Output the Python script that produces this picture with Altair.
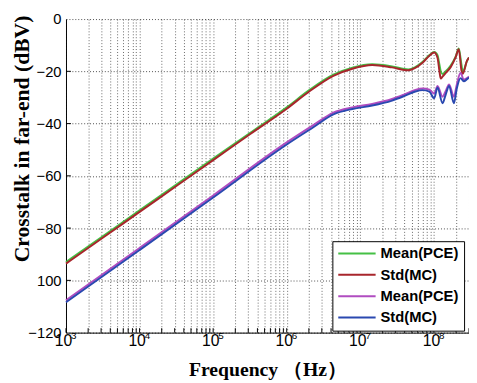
import altair as alt
import pandas as pd

# ---------------- data ----------------
freq_top = [1e3, 3.16e3, 1e4, 3.16e4, 1e5, 3.16e5, 1e6, 2e6, 4.3e6, 7.8e6,
            1.45e7, 2.7e7, 4.5e7, 5.5e7, 7.06e7, 8.69e7, 1.01e8, 1.12e8, 1.19e8,
            1.24e8, 1.31e8, 1.45e8, 1.69e8, 1.97e8, 2.18e8, 2.37e8, 2.47e8,
            2.82e8, 3.0e8]
mean_pce_top = [-93.0, -83.1, -73.2, -63.3, -53.4, -43.6, -33.8, -27.3, -21.3, -18.6,
                -17.3, -18.1, -19.3, -18.5, -16.3, -13.8, -12.6, -13.8, -17.5,
                -20.0, -21.0, -20.0, -17.8, -14.5, -11.3, -17.5, -20.2,
                -16.0, -14.7]
std_mc_top = [-93.6, -83.7, -73.8, -63.9, -54.0, -44.1, -34.3, -27.8, -21.7, -19.0,
              -17.6, -18.5, -19.6, -18.8, -16.6, -14.0, -12.8, -14.8, -20.0,
              -22.8, -22.0, -20.6, -18.4, -14.7, -11.5, -19.7, -20.9,
              -15.9, -14.7]

freq_bot = [1e3, 1e4, 1e5, 1e6, 2.3e6, 4.3e6, 7.8e6, 1.45e7, 2.7e7, 4e7, 5.6e7,
            7.06e7, 8.69e7, 1.01e8, 1.12e8, 1.31e8, 1.45e8, 1.61e8, 1.87e8,
            2.05e8, 2.3e8, 2.55e8, 2.82e8, 3.0e8]
mean_pce_bot = [-107.6, -87.6, -67.5, -47.2, -40.6, -35.8, -33.8, -32.5, -30.6, -28.8, -27.1,
                -26.6, -27.0, -28.5, -25.6, -29.7, -27.5, -25.0, -29.7,
                -25.0, -20.6, -23.2, -22.6, -22.0]
std_mc_bot = [-108.4, -88.4, -68.3, -48.0, -41.4, -36.5, -34.4, -33.1, -31.2, -29.4, -27.7,
              -27.2, -27.8, -30.3, -26.2, -32.2, -28.8, -25.6, -32.2,
              -26.5, -22.6, -23.8, -23.0, -22.4]

series_names = ["Mean(PCE)", "Std(MC)", "Mean(PCE) ", "Std(MC) "]
series_colors = ["#45c045", "#a8262c", "#b04cc0", "#2a48b0"]

y_ticks = [-120, -100, -80, -60, -40, -20, 0]
x_ticks = [k * 10 ** d for d in range(3, 9) for k in range(1, 10) if k * 10 ** d <= 300000000]
x_decades = [1000, 10000, 100000, 1000000, 10000000, 100000000]
x_exponents = ["3", "4", "5", "6", "7", "8"]

x_title = "Frequency （Hz）"
y_title = "Crosstalk in far-end (dBV)"

# ---------------- build tables ----------------
rows = []
for f, v in zip(freq_top, mean_pce_top):
    rows.append({"freq": f, "db": v, "series": series_names[0]})
for f, v in zip(freq_top, std_mc_top):
    rows.append({"freq": f, "db": v, "series": series_names[1]})
for f, v in zip(freq_bot, mean_pce_bot):
    rows.append({"freq": f, "db": v, "series": series_names[2]})
for f, v in zip(freq_bot, std_mc_bot):
    rows.append({"freq": f, "db": v, "series": series_names[3]})
df = pd.DataFrame(rows)

xt_df = pd.DataFrame({"freq": x_ticks, "db": -120, "db2": -118.3})
yt_df = pd.DataFrame({"db": y_ticks[1:-1], "freq": 1000, "freq2": 1165})
exp_df = pd.DataFrame({"freq": x_decades, "db": -120, "exp": x_exponents})

x_scale = alt.Scale(type="log", domain=[1000, 300000000], nice=False)
y_scale = alt.Scale(domain=[-120, 0], nice=False)

x_label_expr = ("indexof([1000, 10000, 100000, 1000000, 10000000, 100000000], datum.value) >= 0"
                " ? '10' : ''")

x_axis = alt.Axis(values=x_ticks, labelExpr=x_label_expr, grid=True, gridDash=[1, 2],
                  gridColor="#000000", gridOpacity=0.6, gridWidth=1,
                  ticks=False, tickSize=0, domainColor="#000000", domainWidth=1,
                  labelFont="Liberation Sans", labelFontSize=16, labelColor="#000000",
                  labelPadding=13, labelBaseline="alphabetic", labelOffset=-3,
                  labelOverlap=False, labelFlush=False, labelBound=False,
                  titleFont="Liberation Serif", titleFontWeight="bold", titleFontSize=20,
                  titleColor="#000000", titleX=205, titleY=44, titleBaseline="alphabetic")

y_axis = alt.Axis(values=y_ticks, labelExpr="datum.value == -100 ? '100' : datum.label",
                  grid=True, gridDash=[1, 2], gridColor="#000000", gridOpacity=0.7, gridWidth=1,
                  ticks=False, tickSize=0, domainColor="#000000", domainWidth=1,
                  labelFont="Liberation Sans", labelFontSize=15, labelColor="#000000",
                  labelPadding=5, labelFlush=False, labelBound=False,
                  titleFont="Liberation Serif", titleFontWeight="bold", titleFontSize=22,
                  titleColor="#000000", titleX=-38, titleY=121.5, titleBaseline="alphabetic",
                  titleAngle=270)

X = alt.X("freq:Q", scale=x_scale, axis=x_axis, title=x_title)
Y = alt.Y("db:Q", scale=y_scale, axis=y_axis, title=y_title)

lines = alt.Chart(df).mark_line(strokeWidth=2, interpolate="monotone").encode(
    x=X,
    y=Y,
    color=alt.Color("series:N",
                    scale=alt.Scale(domain=series_names, range=series_colors),
                    legend=alt.Legend(orient="none", legendX=271, legendY=226, title=None,
                                      symbolType="stroke", symbolSize=1444, symbolStrokeWidth=2,
                                      labelFont="Liberation Sans", labelFontWeight="bold",
                                      labelFontSize=15, labelColor="#000000", labelOffset=4,
                                      clipHeight=15, rowPadding=5.7, padding=5,
                                      strokeColor="#000000", fillColor="#ffffff",
                                      cornerRadius=0)),
    order=alt.Order("freq:Q"),
)

xticks = alt.Chart(xt_df).mark_rule(color="#000000", strokeWidth=1).encode(
    x=X, y=Y, y2="db2:Q",
)

yticks = alt.Chart(yt_df).mark_rule(color="#000000", strokeWidth=1).encode(
    y=Y, x=X, x2="freq2:Q",
)

exps = alt.Chart(exp_df).mark_text(font="Liberation Sans", fontSize=10, color="#000000",
                                   align="center", baseline="alphabetic", dx=8, dy=6).encode(
    x=X, y=Y, text="exp:N",
)

chart = alt.layer(xticks, yticks, lines, exps).properties(
    width=410, height=319,
    autosize=alt.AutoSizeParams(type="none"),
    padding={"left": 59, "top": 8, "right": 0, "bottom": 48},
    background="#ffffff",
).configure_view(stroke=None)

chart.save("out.html", embed_options={"renderer": "svg", "actions": False})
